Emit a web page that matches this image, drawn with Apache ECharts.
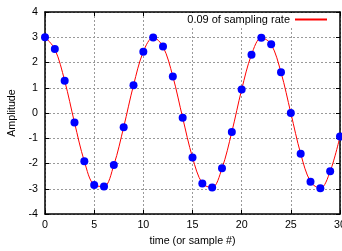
<!DOCTYPE html>
<html>
<head>
<meta charset="utf-8">
<script src="https://cdn.jsdelivr.net/npm/echarts@6/dist/echarts.min.js"></script>
<style>html,body{margin:0;padding:0;background:#fff;}</style>
</head>
<body>
<div id="main" style="width:342px;height:251px;"></div>
<script>
// sample index and amplitude
var samples = [0, 1, 2, 3, 4, 5, 6, 7, 8, 9, 10, 11, 12, 13, 14, 15, 16, 17, 18, 19, 20, 21, 22, 23, 24, 25, 26, 27, 28, 29, 30];
var amplitude = [3.00, 2.53, 1.28, -0.38, -1.91, -2.85, -2.91, -2.06, -0.56, 1.10, 2.43, 2.99, 2.63, 1.45, -0.19, -1.76, -2.79, -2.95, -2.19, -0.75, 0.93, 2.31, 2.98, 2.72, 1.61, 0.00, -1.61, -2.72, -2.98, -2.31, -0.93];
var xTicks = [0, 5, 10, 15, 20, 25, 30];
var yTicks = [-4, -3, -2, -1, 0, 1, 2, 3, 4];
var seriesName = '0.09 of sampling rate';

var pts = samples.map(function (s, i) { return [s, amplitude[i]]; });

var myChart = echarts.init(document.getElementById('main'));
var font = 'Liberation Sans';
var fs = 10.7;
var split = { show: true, lineStyle: { color: '#999', type: [2, 2], width: 1 } };
var tick = { show: true, inside: true, length: 4, lineStyle: { color: '#000' } };
var line = { show: true, onZero: false, lineStyle: { color: '#000', width: 1.5 } };

var option = {
    animation: false,
    textStyle: { fontFamily: font },
    grid: { left: 45, right: 2, top: 12, bottom: 37, containLabel: false, outerBoundsMode: 'none' },
    legend: {
        data: [{ name: seriesName, icon: 'rect' }],
        right: 13, top: 13,
        align: 'right',
        itemWidth: 32, itemHeight: 2, itemGap: 7,
        backgroundColor: '#fff',
        padding: [1, 2, 1, 2],
        textStyle: { fontFamily: font, fontSize: 11, color: '#000' }
    },
    xAxis: [{
        type: 'value', min: xTicks[0], max: xTicks[xTicks.length - 1], interval: 5,
        name: 'time (or sample #)', nameLocation: 'middle', nameGap: 22,
        nameTextStyle: { fontSize: fs, color: '#000' },
        axisLine: line, axisTick: tick, splitLine: split,
        axisLabel: { fontSize: fs, color: '#000', margin: 6 }
    }, {
        type: 'value', position: 'top', min: xTicks[0], max: xTicks[xTicks.length - 1], interval: 5,
        axisLine: line, axisTick: tick, splitLine: { show: false }, axisLabel: { show: false }
    }],
    yAxis: [{
        type: 'value', min: yTicks[0], max: yTicks[yTicks.length - 1], interval: 1,
        name: 'Amplitude', nameLocation: 'middle', nameGap: 26, nameRotate: 90,
        nameTextStyle: { fontSize: fs, color: '#000' },
        axisLine: line, axisTick: tick, splitLine: split,
        axisLabel: { fontSize: fs, color: '#000', margin: 7 }
    }, {
        type: 'value', position: 'right', min: yTicks[0], max: yTicks[yTicks.length - 1], interval: 1,
        axisLine: line, axisTick: tick, splitLine: { show: false }, axisLabel: { show: false }
    }],
    series: [{
        name: seriesName,
        type: 'line',
        data: pts,
        smooth: 0.35,
        showSymbol: false,
        itemStyle: { color: '#ff0000' },
        lineStyle: { color: '#ff0000', width: 1 },
        z: 2
    }, {
        name: 'samples',
        type: 'scatter',
        data: pts,
        symbolSize: 8,
        itemStyle: { color: '#0000ff', opacity: 1 },
        z: 3
    }]
};

myChart.setOption(option);
window.onresize = function () { myChart.resize(); };
</script>
</body>
</html>
